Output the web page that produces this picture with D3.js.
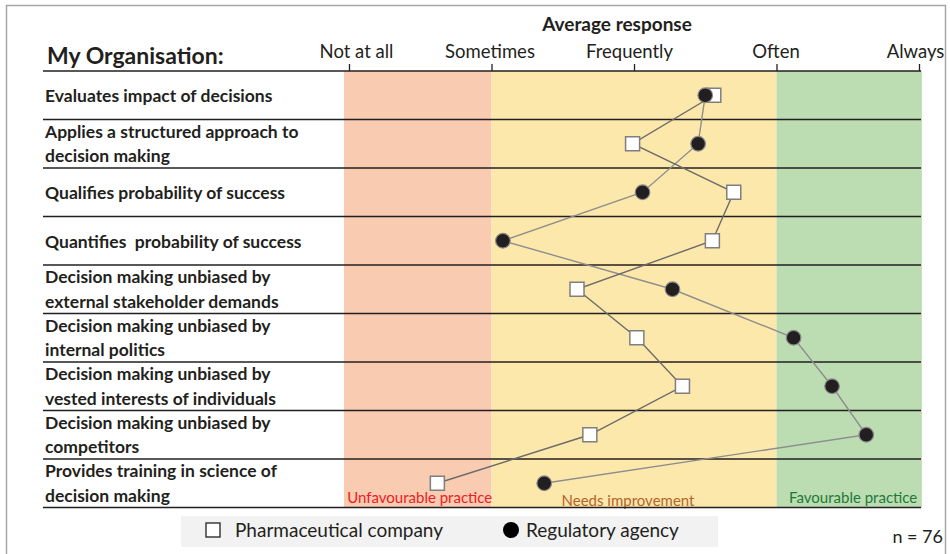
<!DOCTYPE html>
<html>
<head>
<meta charset="utf-8">
<script src="https://cdn.jsdelivr.net/npm/d3@7"></script>
<style>
  body { margin: 0; background: #fff; }
  svg { font-family: Lato, "Open Sans", sans-serif; }
</style>
</head>
<body>
<svg id="chart" width="950" height="554"></svg>
<script>
// rows of the questionnaire (two-line labels split by "|")
let questions = [
  "Evaluates impact of decisions",
  "Applies a structured approach to|decision making",
  "Qualifies probability of success",
  "Quantifies  probability of success",
  "Decision making unbiased by|external stakeholder demands",
  "Decision making unbiased by|internal politics",
  "Decision making unbiased by|vested interests of individuals",
  "Decision making unbiased by|competitors",
  "Provides training in science of|decision making"
];
let pharma = [3.56, 2.99, 3.70, 3.55, 2.60, 3.02, 3.34, 2.69, 1.62];
let regulatory = [3.50, 3.45, 3.06, 2.08, 3.27, 4.12, 4.39, 4.63, 2.37];
let tickLabels = ["Not at all", "Sometimes", "Frequently", "Often", "Always"];
let tickValues = [1, 2, 3, 4, 5];
let zoneNames = ["Unfavourable practice", "Needs improvement", "Favourable practice"];
let zoneBounds = [0.965, 2, 4, 5.02];
let zoneFill = ["#f9cbb0", "#fde8ab", "#bcdcb1"];
let zoneText = ["#ed1c24", "#b5632b", "#1e7a3a"];

let svg = d3.select("#chart");

let x = d3.scaleLinear().domain([1, 5]).range([349, 919]);
let y = d3.scaleBand().domain(questions).range([71, 507.5]);

// frame
svg.append("rect")
   .attr("x", 6.5).attr("y", 5.5)
   .attr("width", 939).attr("height", 560)
   .attr("fill", "none").attr("stroke", "#a6a6a6").attr("stroke-width", 1.5);

// coloured zones
svg.selectAll(".zone")
   .data(zoneNames)
   .enter()
   .append("rect")
   .attr("class", "zone")
   .attr("x", (d, i) => x(zoneBounds[i]))
   .attr("y", 71)
   .attr("width", (d, i) => x(zoneBounds[i + 1]) - x(zoneBounds[i]))
   .attr("height", 507.5 - 71)
   .attr("fill", (d, i) => zoneFill[i]);

svg.selectAll(".zoneLabel")
   .data(zoneNames)
   .enter()
   .append("text")
   .attr("class", "zoneLabel")
   .attr("x", (d, i) => (x(zoneBounds[i]) + x(zoneBounds[i + 1])) / 2 + [2, -6, 4][i])
   .attr("y", (d, i) => i === 1 ? 506 : 503)
   .attr("text-anchor", "middle")
   .attr("font-size", 15)
   .attr("fill", (d, i) => zoneText[i])
   .text(d => d);

// row separators
svg.selectAll(".rowLine")
   .data(questions)
   .enter()
   .append("line")
   .attr("class", "rowLine")
   .attr("x1", 43).attr("x2", 921)
   .attr("y1", d => y(d) + y.bandwidth())
   .attr("y2", d => y(d) + y.bandwidth())
   .attr("stroke", "#231f20").attr("stroke-width", 1.6);

// top axis
let axis = d3.axisTop(x)
             .tickValues(tickValues)
             .tickSize(7)
             .tickFormat((d, i) => tickLabels[i]);
let gAxis = svg.append("g").attr("transform", "translate(0,71)").call(axis);
gAxis.select(".domain").attr("d", "M43,0H921").attr("stroke", "#231f20").attr("stroke-width", 1.6);
gAxis.selectAll(".tick line").attr("stroke", "#231f20").attr("stroke-width", 1.3);
gAxis.selectAll(".tick text")
     .attr("y", -13)
     .attr("dx", (d, i) => [7, -2, -5, -1, -4][i])
     .attr("font-size", 18.5)
     .attr("font-family", "Lato, sans-serif")
     .attr("fill", "#231f20");

svg.append("text")
   .attr("x", 617).attr("y", 31)
   .attr("text-anchor", "middle")
   .attr("font-size", 19).attr("font-weight", "bold")
   .attr("fill", "#231f20")
   .text("Average response");

svg.append("text")
   .attr("x", 47).attr("y", 64)
   .attr("font-size", 23).attr("font-weight", "bold")
   .attr("fill", "#231f20")
   .text("My Organisation:");

// row labels
let labels = svg.selectAll(".qLabel")
   .data(questions)
   .enter()
   .append("text")
   .attr("class", "qLabel")
   .attr("font-size", 17.5).attr("font-weight", "bold")
   .attr("fill", "#231f20");
labels.each(function (d) {
  let parts = d.split("|");
  let mid = y(d) + y.bandwidth() / 2;
  let first = parts.length === 1 ? mid + 7 : mid - 6;
  parts.forEach((p, k) => {
    d3.select(this).append("tspan")
      .attr("x", 45)
      .attr("y", first + k * 24.5)
      .style("white-space", "pre")
      .text(p);
  });
});

// connecting lines
let line = d3.line()
             .x(d => x(d[0]))
             .y(d => y(d[1]) + y.bandwidth() / 2);

svg.append("path")
   .datum(regulatory.map((v, i) => [v, questions[i]]))
   .attr("d", line)
   .attr("fill", "none").attr("stroke", "#8e8e8e").attr("stroke-width", 1.4);

svg.append("path")
   .datum(pharma.map((v, i) => [v, questions[i]]))
   .attr("d", line)
   .attr("fill", "none").attr("stroke", "#6b6b6b").attr("stroke-width", 1.4);

// markers: squares underneath, circles on top
svg.selectAll(".pharma")
   .data(pharma)
   .enter()
   .append("rect")
   .attr("class", "pharma")
   .attr("x", d => x(d) - 7)
   .attr("y", (d, i) => y(questions[i]) + y.bandwidth() / 2 - 7)
   .attr("width", 14).attr("height", 14)
   .attr("fill", "#fff")
   .attr("stroke", "#7f7f7f").attr("stroke-width", 1.5);

svg.selectAll(".reg")
   .data(regulatory)
   .enter()
   .append("circle")
   .attr("class", "reg")
   .attr("cx", d => x(d))
   .attr("cy", (d, i) => y(questions[i]) + y.bandwidth() / 2)
   .attr("r", 7.3)
   .attr("fill", "#231f20")
   .attr("stroke", "#8a8a8a").attr("stroke-width", 1.2);

// legend
let legend = svg.append("g");
legend.append("rect")
      .attr("x", 181).attr("y", 516)
      .attr("width", 537).attr("height", 31)
      .attr("fill", "#f2f2f2");
legend.append("rect")
      .attr("x", 206).attr("y", 523)
      .attr("width", 14).attr("height", 14)
      .attr("fill", "#fff").attr("stroke", "#231f20").attr("stroke-width", 1.3);
legend.append("text")
      .attr("x", 235).attr("y", 537)
      .attr("font-size", 19).attr("fill", "#231f20")
      .text("Pharmaceutical company");
legend.append("circle")
      .attr("cx", 511).attr("cy", 530).attr("r", 8)
      .attr("fill", "#000");
legend.append("text")
      .attr("x", 526).attr("y", 537)
      .attr("font-size", 19).attr("fill", "#231f20")
      .text("Regulatory agency");

svg.append("text")
   .attr("x", 943).attr("y", 543)
   .attr("text-anchor", "end")
   .attr("font-size", 18).attr("fill", "#231f20")
   .text("n = 76");
</script>
</body>
</html>
